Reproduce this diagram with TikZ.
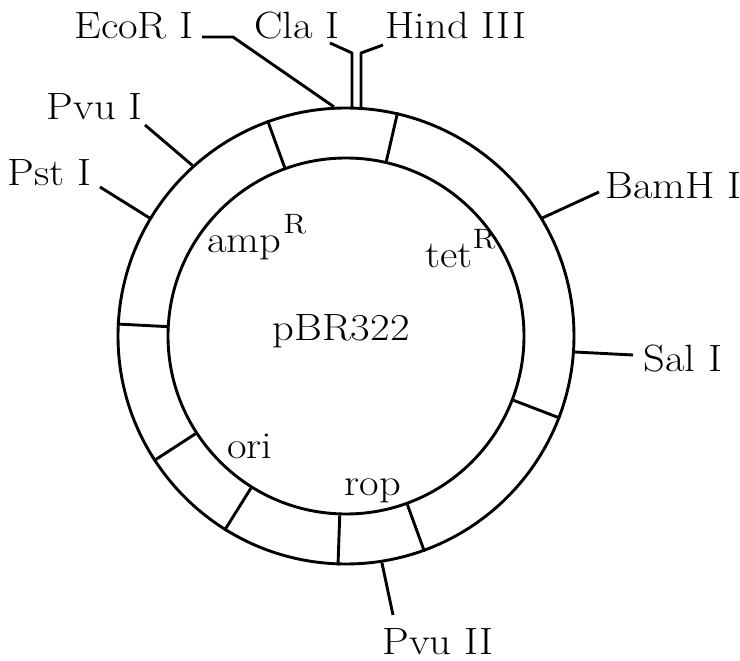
\documentclass[tikz,border=0pt]{standalone}
\usepackage{fontspec}
\setmainfont[FakeStretch=1.12]{Latin Modern Roman}
\newcommand{\supR}{\raisebox{0.5em}{\fontsize{14}{14}\selectfont R}}
\begin{document}
\begin{tikzpicture}[x=0.5pt,y=0.5pt,
  ln/.style={line width=1.45pt, line join=round},
  lbl/.style={inner sep=0pt, font=\fontsize{19}{22}\selectfont},
  ring/.style={draw, circle, line width=1.45pt, inner sep=0pt}]
\useasboundingbox (0,0) rectangle (740,660);
\coordinate (C) at (346,324);
\node[ring, minimum size=228pt] (outer) at (C) {};
\node[ring, minimum size=178pt] (inner) at (C) {};
% segment dividers
\foreach \a in {110,77,177,213,238,268,290,339}
  \draw[ln] (inner.\a) -- (outer.\a);
% labels
\node[lbl, anchor=base east] (eco) at (194,621) {EcoR I};
\node[lbl, anchor=base] (cla) at (297,621) {Cla I};
\node[lbl, anchor=base west] (hind) at (385,621) {Hind III};
\node[lbl, anchor=base east] (pvu1) at (143,540) {Pvu I};
\node[lbl, anchor=base east] (pst) at (92,474) {Pst I};
\node[lbl, anchor=base west] (bam) at (605,461) {BamH I};
\node[lbl, anchor=base west] (sal) at (643,288) {Sal I};
\node[lbl, anchor=base] (pvu2) at (438,6) {Pvu II};
\node[lbl, anchor=base west] (amp) at (207,407) {amp\kern1pt\supR};
\node[lbl, anchor=base west] (tet) at (425,392) {tet\supR};
\node[lbl, anchor=base] (pbr) at (341,320) {pBR322};
\node[lbl, anchor=base] (ori) at (250,202) {ori};
\node[lbl, anchor=base] (rop) at (373,165) {rop};
% connector points
\coordinate (ecoB) at (233,623);
\coordinate (ecoE) at (202,623);
\coordinate (claS) at (352,551);
\coordinate (claB) at (352,607);
\coordinate (claE) at (330,617);
\coordinate (hindS) at (361,551);
\coordinate (hindB) at (361,607);
\coordinate (hindE) at (383,615);
\coordinate (pvu1E) at (145,535);
\coordinate (pstE) at (100,473);
\coordinate (bamE) at (599,468);
\coordinate (salE) at (633,305);
\coordinate (pvu2E) at (393,45);
% connectors
\draw[ln] (outer.93.3) -- (ecoB) -- (ecoE);
\draw[ln] (claS) -- (claB) -- (claE);
\draw[ln] (hindS) -- (hindB) -- (hindE);
\draw[ln] (outer.132.3) -- (pvu1E);
\draw[ln] (outer.149.2) -- (pstE);
\draw[ln] (outer.31.5) -- (bamE);
\draw[ln] (outer.-4.8) -- (salE);
\draw[ln] (outer.279.3) -- (pvu2E);
\end{tikzpicture}
\end{document}
